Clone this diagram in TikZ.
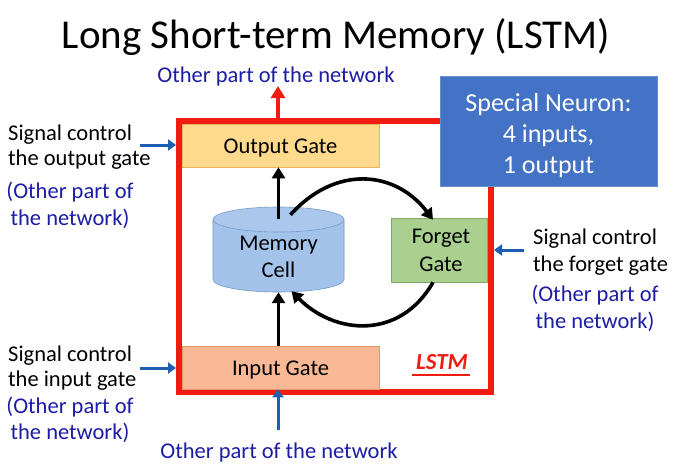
\documentclass[tikz,border=0pt]{standalone}
\usepackage{fontspec}
\setmainfont{Carlito}
\usetikzlibrary{arrows.meta,calc}
\definecolor{lred}{RGB}{240,28,18}
\definecolor{navy}{RGB}{28,28,165}
\definecolor{arrblue}{RGB}{30,95,180}
\definecolor{boxblue}{RGB}{68,114,196}
\definecolor{ogfill}{RGB}{255,217,140}
\definecolor{ogdraw}{RGB}{240,180,90}
\definecolor{igfill}{RGB}{248,184,150}
\definecolor{igdraw}{RGB}{232,150,105}
\definecolor{fgfill}{RGB}{169,208,142}
\definecolor{fgdraw}{RGB}{128,170,95}
\definecolor{cylfill}{RGB}{164,195,234}
\definecolor{cyldraw}{RGB}{120,155,200}
\tikzset{
  body/.style={font=\fontsize{22.5}{27}\selectfont, inner sep=0pt},
  bluetxt/.style={body, text=navy},
  gatebox/.style={minimum width=197pt, minimum height=43pt, inner sep=0pt, line width=0.6pt},
  blk/.style={line width=3.6pt, -{Triangle[length=11pt,width=13pt]}},
  bluearr/.style={line width=3pt, arrblue, -{Triangle[length=8pt,width=11pt]}},
}
\begin{document}
\begin{tikzpicture}[x=1pt,y=-1pt]
\path[use as bounding box, fill=white] (0,0) rectangle (676,467);

% title
\node[font=\fontsize{41}{48}\selectfont, inner sep=0pt, anchor=base] (title) at (336,48) {Long Short-term Memory (LSTM)};

% red frame
\coordinate (f1) at (445,121);
\coordinate (f2) at (179,121);
\coordinate (f3) at (179,392);
\coordinate (f4) at (491,392);
\coordinate (f5) at (491,180);
\draw[lred, line width=5.5pt, line join=miter] (f1) -- (f2) -- (f3) -- (f4) -- (f5);
\coordinate (ftop) at (278,121);
\coordinate (outtip) at (278,86);
\draw[lred, line width=4pt, -{Triangle[length=12pt,width=14pt]}] (ftop) -- (outtip);

% special neuron box
\node[fill=boxblue, draw=boxblue!80!white, line width=0.8pt, minimum width=217pt, minimum height=110pt, inner sep=0pt] (sn) at (548.5,131) {};
\node[font=\fontsize{26}{31}\selectfont, text=white, anchor=base, inner sep=0pt] (sn1) at (548.5,111) {Special Neuron:};
\node[font=\fontsize{26}{31}\selectfont, text=white, anchor=base, inner sep=0pt] (sn2) at (548.5,142) {4 inputs,};
\node[font=\fontsize{26}{31}\selectfont, text=white, anchor=base, inner sep=0pt] (sn3) at (548.5,173) {1 output};

% gates
\node[gatebox, fill=ogfill, draw=ogdraw] (og) at (280.5,145.5) {};
\node[body, anchor=base] (ogt) at (280.5,153) {Output Gate};
\node[gatebox, fill=igfill, draw=igdraw] (ig) at (280.5,367.5) {};
\node[body, anchor=base] (igt) at (280.5,375) {Input Gate};
\node[fill=fgfill, draw=fgdraw, line width=0.6pt, minimum width=96pt, minimum height=64pt, inner sep=0pt] (fg) at (439,250) {};
\node[body, anchor=base] (fgt1) at (441,243) {Forget};
\node[body, anchor=base] (fgt2) at (441,271) {Gate};

% memory cell (cylinder)
\node[minimum width=131pt, minimum height=85pt, inner sep=0pt] (mem) at (278.5,249.5) {};
\fill[cylfill] (213,219.5) -- (213,279.5) arc[start angle=180, end angle=360, x radius=65.5pt, y radius=12.5pt] -- (344,219.5) -- cycle;
\draw[cyldraw, line width=0.6pt, fill=cylfill] (213,219.5) -- (213,279.5) arc[start angle=180, end angle=360, x radius=65.5pt, y radius=12.5pt] -- (344,219.5);
\draw[cyldraw, line width=0.6pt, fill=cylfill!92!white] (278.5,219.5) ellipse[x radius=65.5pt, y radius=12.5pt];
\node[body, anchor=base] (memt1) at (278.5,250) {Memory};
\node[body, anchor=base] (memt2) at (278.5,277) {Cell};

% black arrows
\draw[blk] ([yshift=-12pt]mem.north) -- (mem.north |- og.south);
\draw[blk] (mem.south |- ig.north) -- (mem.south);
\draw[blk] ([xshift=12pt,yshift=-8pt]mem.north) .. controls (335,165) and (395,170) .. ([xshift=-6pt,yshift=-2pt]fg.north);
\draw[blk] ([xshift=-6pt]fg.south) .. controls (400,340) and (335,335) .. ([xshift=13pt,yshift=1pt]mem.south);

% LSTM label
\node[font=\fontsize{23}{27}\selectfont\bfseries\itshape, text=lred, inner sep=0pt, anchor=base] (lstm) at (442,369) {LSTM};
\draw[lred, line width=1.5pt] (412,375) -- (470,375);

% texts left top
\node[body, anchor=base west] (lt1) at (8,140) {Signal control};
\node[body, anchor=base west] (lt2) at (8,165) {the output gate};
\node[bluetxt, anchor=base] (lt3) at (70,198) {(Other part of};
\node[bluetxt, anchor=base] (lt4) at (70,225) {the network)};
\coordinate (a1s) at (140,145);
\coordinate (a1e) at (176,145);
\draw[bluearr] (a1s) -- (a1e);

% texts left bottom
\node[body, anchor=base west] (lb1) at (8,361) {Signal control};
\node[body, anchor=base west] (lb2) at (8,386) {the input gate};
\node[bluetxt, anchor=base] (lb3) at (70,413) {(Other part of};
\node[bluetxt, anchor=base] (lb4) at (70,439) {the network)};
\coordinate (a2s) at (140,368);
\coordinate (a2e) at (176,368);
\draw[bluearr] (a2s) -- (a2e);

% texts right
\node[body, anchor=base west] (r1) at (533,244) {Signal control};
\node[body, anchor=base west] (r2) at (533,271) {the forget gate};
\node[bluetxt, anchor=base] (r3) at (595,301) {(Other part of};
\node[bluetxt, anchor=base] (r4) at (595,328) {the network)};
\coordinate (a3s) at (524,250);
\coordinate (a3e) at (494,250);
\draw[bluearr] (a3s) -- (a3e);

% top and bottom texts
\node[bluetxt, anchor=base] (top) at (276,82) {Other part of the network};
\node[bluetxt, anchor=base] (bot) at (279,458) {Other part of the network};
\coordinate (a4s) at (278,430);
\draw[bluearr] (a4s) -- ([xshift=-2.5pt]ig.south);
\end{tikzpicture}
\end{document}
